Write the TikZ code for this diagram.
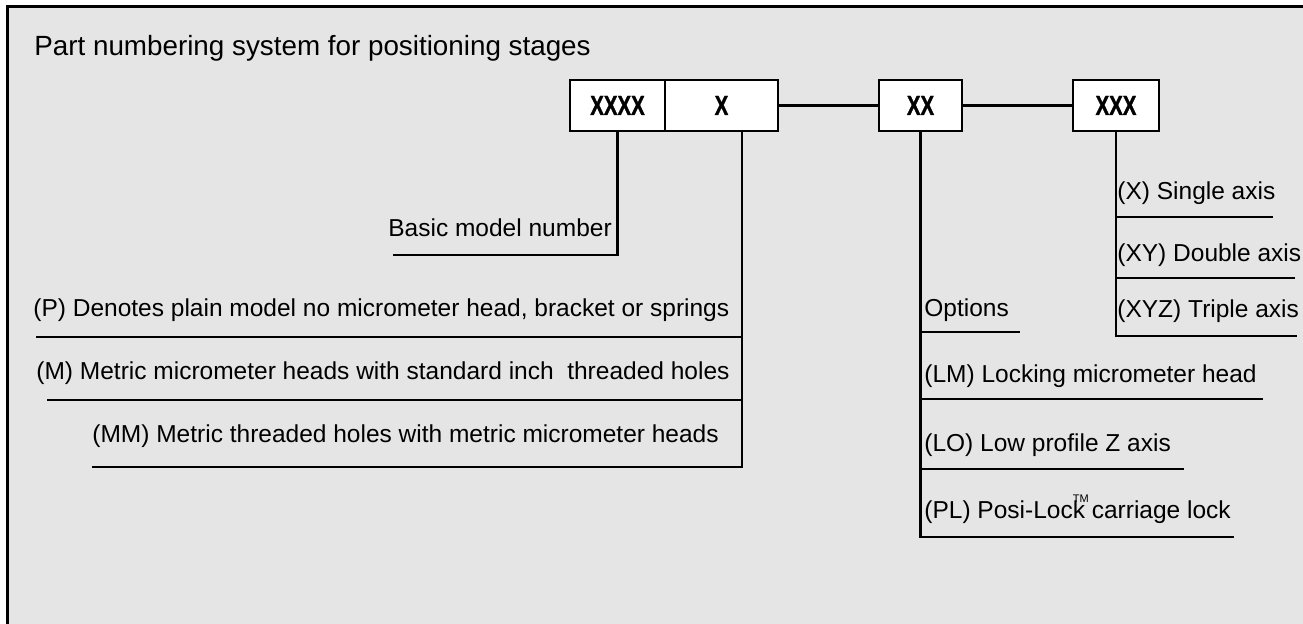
\documentclass[tikz,border=0pt]{standalone}
\usepackage{fontspec}
\setmainfont{Liberation Sans}
\newfontfamily\boxfont[FakeStretch=0.74, FakeBold=1.2]{Liberation Sans}
\usetikzlibrary{positioning}
\definecolor{panelgray}{RGB}{229, 229, 229}

\begin{document}
\begin{tikzpicture}[x=0.5pt, y=-0.5pt,
        digit/.style={draw, line width=1.2pt, fill=white, minimum height=25.5pt,
                      inner sep=0pt, font=\boxfont\bfseries\fontsize{13.8}{14}\selectfont},
        label/.style={anchor=base west, inner sep=0pt, font=\fontsize{12.25}{14}\selectfont},
        lead/.style={line width=1.1pt}]
    \useasboundingbox (0,0) rectangle (1303,624);
    \fill[panelgray] (7.5,6.5) rectangle (1303,624);
    \draw[line width=1.3pt] (1303,6.5) -- (7.5,6.5) -- (7.5,624);

    \node[label, font=\fontsize{13.9}{16}\selectfont] (title) at (34,56) {Part numbering system for positioning stages};

    \node[digit, minimum width=47.5pt] (base) at (617.5,105.5) {XXXX};
    \node[digit, minimum width=56.5pt] (plain) at (721.5,105.5) {X};
    \node[digit, minimum width=41.5pt] (opt) at (920.5,105.5) {XX};
    \node[digit, minimum width=43pt] (axis) at (1116,105.5) {XXX};
    \draw[lead] (plain) -- (opt);
    \draw[lead] (opt) -- (axis);

    \node[label] (basic) at (388,237) {Basic model number};
    \node[label] (pmodel) at (33,317) {(P) Denotes plain model no micrometer head, bracket or springs};
    \node[label] (mmodel) at (36,380) {(M) Metric micrometer heads with standard inch\ \ threaded holes};
    \node[label] (mmmodel) at (92,443) {(MM) Metric threaded holes with metric micrometer heads};
    \node[label] (options) at (924,317) {Options};
    \node[label] (lm) at (924,383) {(LM) Locking micrometer head};
    \node[label] (lo) at (924,452) {(LO) Low profile Z axis};
    \node[label] (pl) at (924,519) {(PL) Posi-Loc\rlap{\raisebox{1.25ex}{\fontsize{5.5}{6}\selectfont TM}}k carriage lock};
    \node[label] (single) at (1117,200) {(X) Single axis};
    \node[label] (double) at (1117,262) {(XY) Double axis};
    \node[label] (triple) at (1117,318) {(XYZ) Triple axis};

    \coordinate (basicEnd) at (393,255);
    \coordinate (pEnd) at (36,337);
    \coordinate (mEnd) at (47,400);
    \coordinate (mmEnd) at (92,467);
    \coordinate (plainStem) at (742,467);
    \coordinate (optionsEnd) at (1020,332);
    \coordinate (lmEnd) at (1263,399);
    \coordinate (loEnd) at (1184,469);
    \coordinate (plEnd) at (1234,537);
    \coordinate (singleEnd) at (1273,217);
    \coordinate (doubleEnd) at (1295,278);
    \coordinate (tripleEnd) at (1297,336);

    \draw[lead] (base.south) |- (basicEnd);
    \draw[lead] (plain.south -| plainStem) -- (plainStem) -- (mmEnd);
    \draw[lead] (plainStem |- pEnd) -- (pEnd);
    \draw[lead] (plainStem |- mEnd) -- (mEnd);
    \draw[lead] (opt.south) |- (plEnd);
    \draw[lead] (opt.south |- optionsEnd) -- (optionsEnd);
    \draw[lead] (opt.south |- lmEnd) -- (lmEnd);
    \draw[lead] (opt.south |- loEnd) -- (loEnd);
    \draw[lead] (axis.south) |- (tripleEnd);
    \draw[lead] (axis.south |- singleEnd) -- (singleEnd);
    \draw[lead] (axis.south |- doubleEnd) -- (doubleEnd);
\end{tikzpicture}
\end{document}
